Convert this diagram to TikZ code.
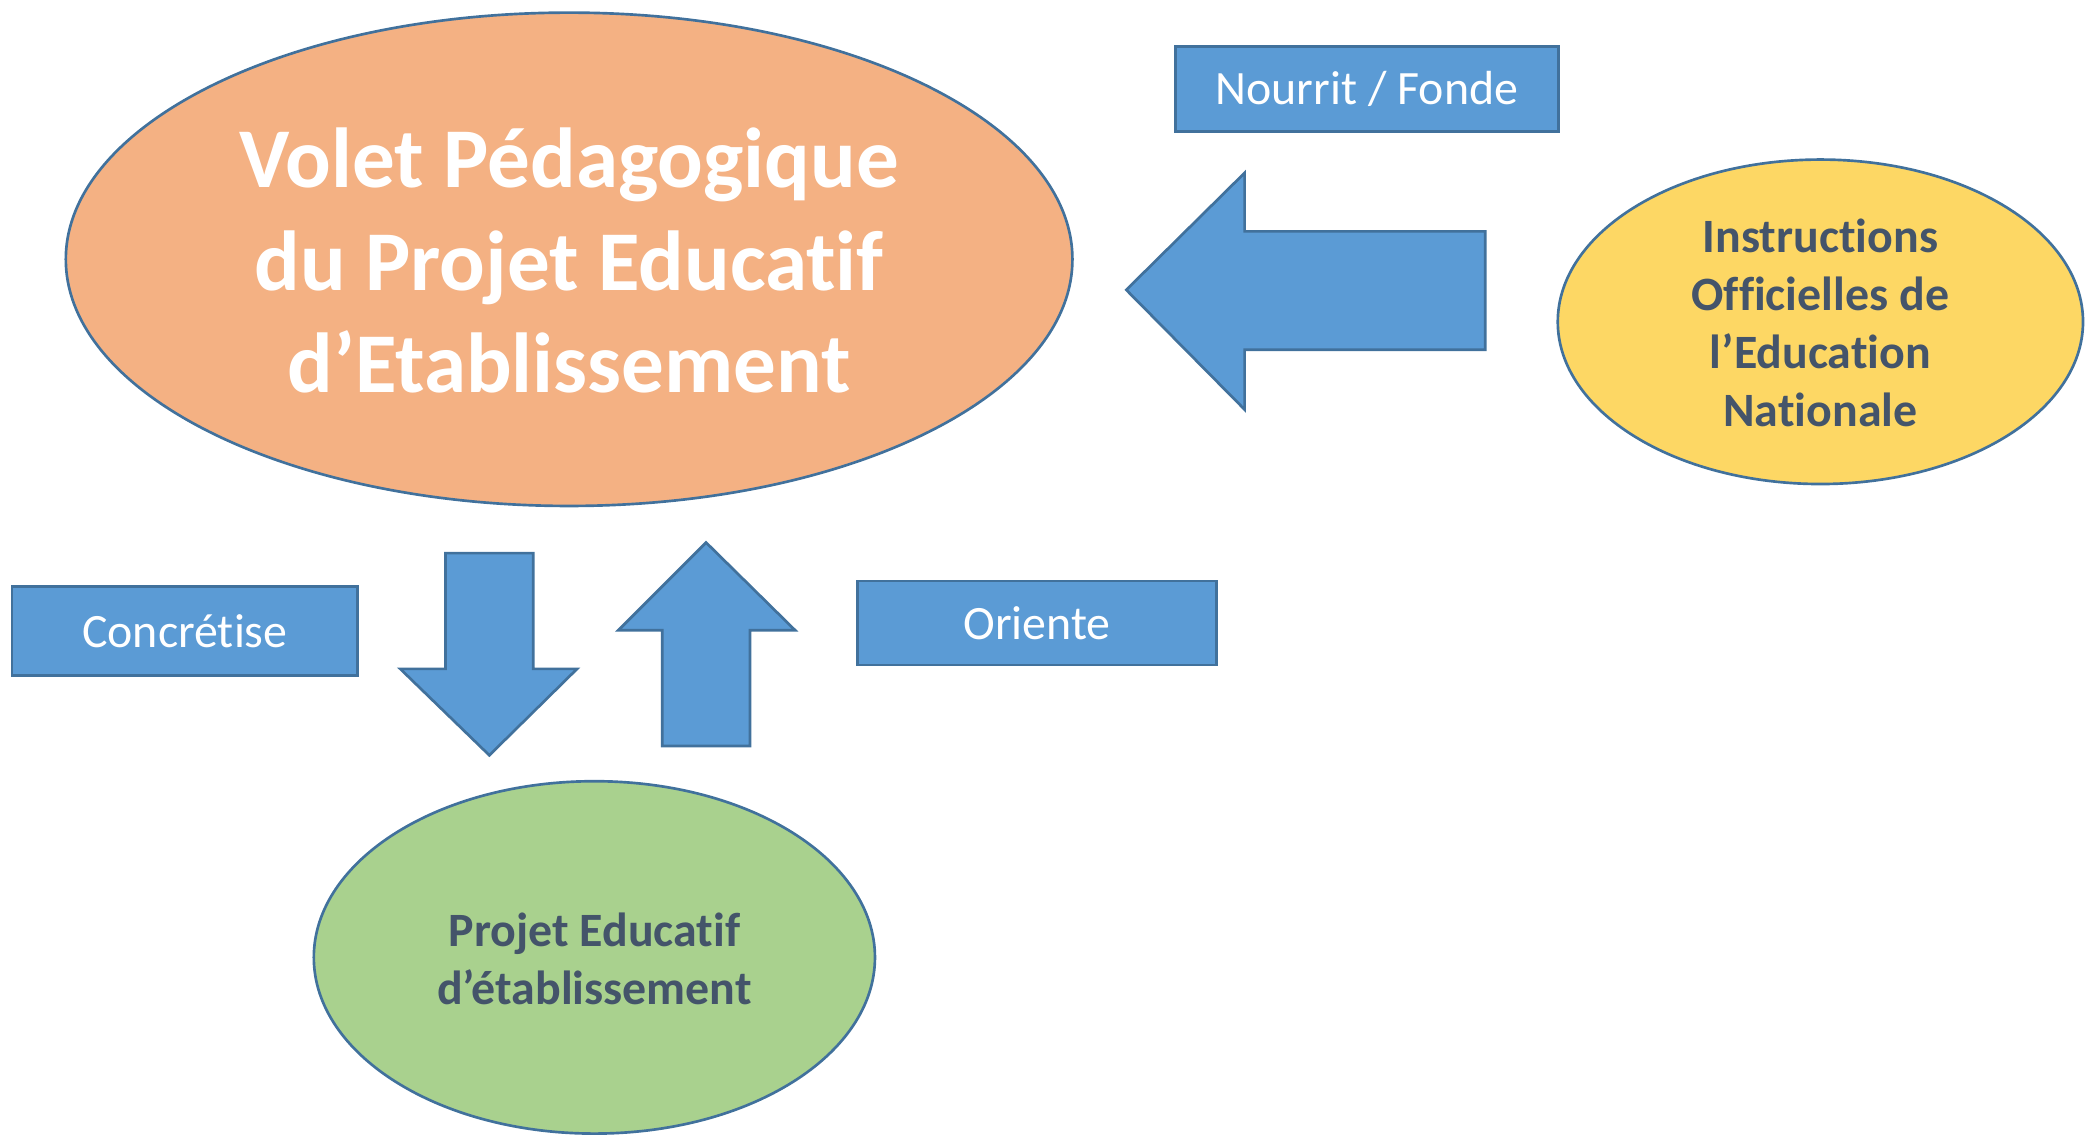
\documentclass[tikz,border=0pt]{standalone}
\usepackage{fontspec}
\setmainfont{Carlito}[Ligatures=NoCommon]
\definecolor{bord}{HTML}{41719C}
\definecolor{bluef}{HTML}{5B9BD5}
\definecolor{orangef}{HTML}{F4B183}
\definecolor{yellowf}{HTML}{FDD764}
\definecolor{greenf}{HTML}{A9D18E}
\definecolor{txt}{HTML}{44546A}
\tikzset{
  oval/.style={ellipse, draw=bord, line width=2pt, inner sep=0pt},
  lbl/.style={rectangle, draw=bord, line width=2pt, fill=bluef, text=white, inner sep=0pt},
  fatarrow/.style={draw=bord, line width=2pt, fill=bluef, line join=miter}
}
\usetikzlibrary{shapes.geometric}
\begin{document}
\begin{tikzpicture}[x=1pt,y=-1pt]
\useasboundingbox (0,0) rectangle (1568,853);
% orange ellipse
\node[oval, fill=orangef, minimum width=757pt, minimum height=371pt] (volet) at (428,195) {};
\node[text=white, align=center, font=\fontsize{64}{77}\selectfont\bfseries] (volett) at (428,196)
  {Volet Pédagogique\\du Projet Educatif\\d’Etablissement};
% yellow ellipse
\node[oval, fill=yellowf, minimum width=395pt, minimum height=244pt] (io) at (1369,242) {};
\node[text=txt, align=center, font=\fontsize{36}{43.5}\selectfont\bfseries] (iot) at (1369,243)
  {Instructions\\Officielles de\\l’Education\\Nationale};
% green ellipse
\node[oval, fill=greenf, minimum width=422pt, minimum height=265pt] (pe) at (447,720) {};
\node[text=txt, align=center, font=\fontsize{36}{43.5}\selectfont\bfseries] (pet) at (447,721)
  {Projet Educatif\\d’établissement};
% label boxes
\node[lbl, minimum width=288pt, minimum height=64pt, font=\fontsize{36}{40}\selectfont] (nf) at (1028,67) {Nourrit / Fonde};
\node[lbl, minimum width=260pt, minimum height=67pt, font=\fontsize{36}{40}\selectfont] (co) at (139,474.5) {Concrétise};
\node[lbl, minimum width=270pt, minimum height=63pt, font=\fontsize{36}{40}\selectfont] (or) at (780,468.5) {Oriente};
% big left arrow
\draw[fatarrow] (847,218) -- (936,130) -- (936,174) -- (1117,174) -- (1117,263) -- (936,263) -- (936,308) -- cycle;
% down arrow
\draw[fatarrow] (368,568) -- (301,503) -- (335,503) -- (335,416) -- (401,416) -- (401,503) -- (434,503) -- cycle;
% up arrow
\draw[fatarrow] (531,408) -- (598,474) -- (564,474) -- (564,561) -- (498,561) -- (498,474) -- (465,474) -- cycle;
\end{tikzpicture}
\end{document}
